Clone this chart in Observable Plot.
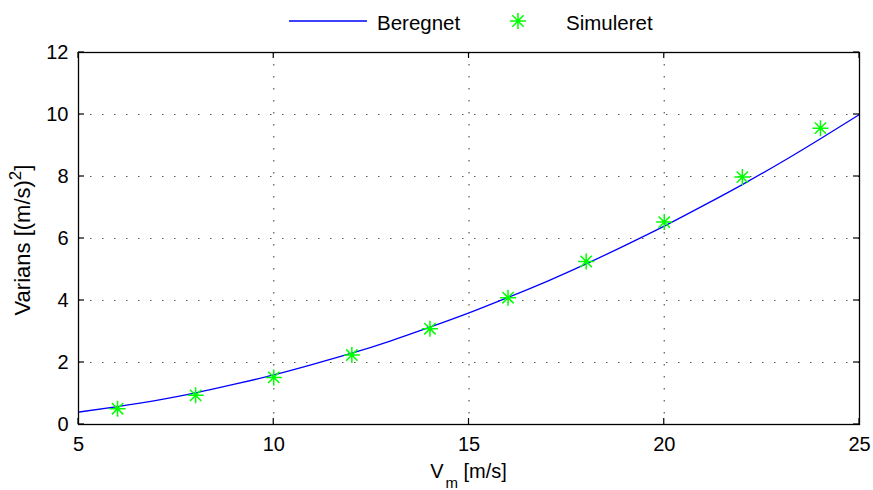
<!DOCTYPE html>
<html>
<head>
<meta charset="utf-8">
<script src="https://cdn.jsdelivr.net/npm/d3@7"></script>
<script src="https://cdn.jsdelivr.net/npm/@observablehq/plot@0.6"></script>
<style>
  html, body { margin: 0; padding: 0; background: #fff; }
  #chart { width: 873px; height: 490px; }
  svg { overflow: visible; }
</style>
</head>
<body>
<div id="chart"></div>
<script>
// Calculated variance (Beregnet) along mean wind speed
const calcSpeed = [5, 6, 7, 8, 9, 10, 11, 12, 13, 14, 15, 16, 17, 18, 19, 20, 21, 22, 23, 24, 25];
const calcVariance = [0.40, 0.58, 0.78, 1.02, 1.30, 1.60, 1.94, 2.30, 2.70, 3.14, 3.60,
                      4.10, 4.62, 5.18, 5.78, 6.40, 7.06, 7.74, 8.46, 9.22, 10.0];

// Simulated variance (Simuleret)
const simSpeed = [6, 8, 10, 12, 14, 16, 18, 20, 22, 24];
const simVariance = [0.51, 0.94, 1.52, 2.24, 3.09, 4.09, 5.26, 6.53, 7.98, 9.56];

// Axis ticks
const xTicks = [5, 10, 15, 20, 25];
const yTicks = [0, 2, 4, 6, 8, 10, 12];

const calcData = calcSpeed.map((v, i) => ({v, s: calcVariance[i]}));
const simData = simSpeed.map((v, i) => ({v, s: simVariance[i]}));

// MATLAB-style asterisk: a plus overlaid with an x
const asterisk = {
  draw(ctx, size) {
    const r = Math.sqrt(size / Math.PI);
    const d = r * Math.SQRT1_2;
    ctx.moveTo(-r, 0); ctx.lineTo(r, 0);
    ctx.moveTo(0, -r); ctx.lineTo(0, r);
    ctx.moveTo(-d, -d); ctx.lineTo(d, d);
    ctx.moveTo(-d, d); ctx.lineTo(d, -d);
  }
};

const W = 873, H = 490;
const mL = 78, mR = 14, mT = 52, mB = 66;
const tickLen = 6;
const font = "'Liberation Sans', Arial, Helvetica, sans-serif";
const green = "#00ff00", blue = "#0000ff";
const markerR = 8;

const chart = Plot.plot({
  width: W,
  height: H,
  marginLeft: mL,
  marginRight: mR,
  marginTop: mT,
  marginBottom: mB,
  style: {fontFamily: font, fontSize: "20px", color: "#000", background: "#fff"},
  x: {domain: [5, 25]},
  y: {domain: [0, 12]},
  marks: [
    // dotted grid
    Plot.gridX(xTicks.slice(1, -1), {stroke: "#000", strokeOpacity: 0.65, strokeWidth: 1.2, strokeDasharray: "1.5,10.5"}),
    Plot.gridY(yTicks.slice(1, -1), {stroke: "#000", strokeOpacity: 0.65, strokeWidth: 1.2, strokeDasharray: "1.5,10.5"}),
    Plot.axisX(xTicks, {tickSize: 0, tickPadding: 12, label: null}),
    Plot.axisY(yTicks, {tickSize: 0, tickPadding: 10, label: null}),
    Plot.line(calcData, {x: "v", y: "s", stroke: blue, strokeWidth: 1.3, curve: "natural"}),
    Plot.dot(simData, {x: "v", y: "s", symbol: asterisk, r: markerR, stroke: green, strokeWidth: 1.5, fill: "none"}),
    Plot.frame({stroke: "#000", strokeWidth: 1.3})
  ]
});

document.getElementById("chart").appendChild(chart);

const svg = d3.select(chart);
const sx = chart.scale("x"), sy = chart.scale("y");
const [x0, x1] = sx.range;
const [y0, y1] = sy.range; // y0 bottom, y1 top

// inward tick marks on all four sides of the box
const ticks = svg.append("g").attr("stroke", "#000").attr("stroke-width", 1.2);
for (const t of xTicks) {
  const px = sx.apply(t);
  ticks.append("line").attr("x1", px).attr("x2", px).attr("y1", y0).attr("y2", y0 - tickLen);
  ticks.append("line").attr("x1", px).attr("x2", px).attr("y1", y1).attr("y2", y1 + tickLen);
}
for (const t of yTicks) {
  const py = sy.apply(t);
  ticks.append("line").attr("x1", x0).attr("x2", x0 + tickLen).attr("y1", py).attr("y2", py);
  ticks.append("line").attr("x1", x1).attr("x2", x1 - tickLen).attr("y1", py).attr("y2", py);
}

// x-axis label: V_m [m/s]
const xl = svg.append("text")
  .attr("x", (x0 + x1) / 2)
  .attr("y", 478)
  .attr("text-anchor", "middle")
  .attr("font-family", font)
  .attr("font-size", 20)
  .attr("fill", "#000");
xl.append("tspan").text("V");
xl.append("tspan").attr("dx", 2).attr("dy", 10).attr("font-size", 15).text("m");
xl.append("tspan").attr("dy", -10).text(" [m/s]");

// y-axis label: Varians [(m/s)^2]
const yl = svg.append("text")
  .attr("transform", `translate(30,${(y0 + y1) / 2 + 2}) rotate(-90)`)
  .attr("text-anchor", "middle")
  .attr("font-family", font)
  .attr("font-size", 22)
  .attr("fill", "#000");
yl.append("tspan").text("Varians [(m/s)");
yl.append("tspan").attr("dy", -9).attr("font-size", 17).text("2");
yl.append("tspan").attr("dy", 9).text("]");

// legend across the top
const lg = svg.append("g").attr("font-family", font).attr("font-size", 20.5)
  .attr("fill", "#000").attr("text-anchor", "start");
lg.append("line").attr("x1", 289).attr("x2", 367).attr("y1", 21).attr("y2", 21)
  .attr("stroke", blue).attr("stroke-width", 1.3);
lg.append("text").attr("x", 377).attr("y", 29.5).text("Beregnet");
lg.append("path").attr("transform", "translate(518,21)")
  .attr("d", d3.symbol(asterisk, Math.PI * markerR * markerR)())
  .attr("stroke", green).attr("stroke-width", 1.5).attr("fill", "none");
lg.append("text").attr("x", 566).attr("y", 29.5).text("Simuleret");
</script>
</body>
</html>
